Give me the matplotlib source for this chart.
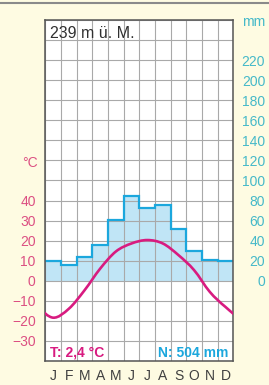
import matplotlib.pyplot as plt
from matplotlib.path import Path
from matplotlib.patches import PathPatch
from matplotlib.lines import Line2D
import numpy as np

plt.rcParams['font.family'] = ['Liberation Sans', 'DejaVu Sans']

# data
months = ['J', 'F', 'M', 'A', 'M', 'J', 'J', 'A', 'S', 'O', 'N', 'D']
precip_mm = [20, 16, 24, 36, 61, 85, 73, 76, 52, 30, 21, 20]
temp_c = [-18.4, -13.9, -4.7, 6.1, 14.6, 18.6, 20.3, 18.6, 12.8, 5.3, -5.5, -13.0]
temp_ticks = [-30, -20, -10, 0, 10, 20, 30, 40]
mm_ticks = [0, 20, 40, 60, 80, 100, 120, 140, 160, 180, 200, 220]
station = '239 m ü. M.'
temp_note = 'T: 2,4 °C'
precip_note = 'N: 504 mm'

bg = '#fefbe2'
rain_line = '#1ba7dd'
rain_fill = '#c0e5f6'
temp_col = '#d81b80'
temp_lab = '#dc4f82'
mm_lab = '#45b9c9'
grid_col = '#a9a9a9'

fig = plt.figure(figsize=(2.69, 3.85), dpi=100, facecolor=bg)
fig.add_artist(Line2D([0, 1], [0.9935, 0.9935], color='#8a8a8a', lw=1.5))

# temperature axes (left) on top, precipitation twin (right) underneath
axt = fig.add_axes([0.169, 0.0623, 0.698, 0.8857])
ax = axt.twinx()
axt.set_zorder(ax.get_zorder() + 1)
axt.patch.set_visible(False)
ax.patch.set_visible(True)
ax.set_facecolor('white')
ax.xaxis.set_visible(True)

edges = np.arange(13)
axt.set_xlim(0, 12)
axt.set_ylim(-40, 130)
ax.set_ylim(-80, 260)

axt.set_xticks(edges[:-1] + 0.5)
axt.set_xticklabels(months)
axt.set_xticks(edges, minor=True)
axt.tick_params(axis='x', which='both', length=0, pad=6, labelsize=10, labelcolor='#404040')
ax.tick_params(axis='x', which='both', length=0, labelbottom=False, labeltop=False)

ax.set_yticks(mm_ticks)
ax.set_yticklabels([str(v) for v in mm_ticks])
ax.set_yticks(np.arange(-80, 261, 20), minor=True)
ax.tick_params(axis='y', which='both', length=0, pad=23, labelsize=10, labelcolor=mm_lab)
for tk in ax.yaxis.get_major_ticks():
    tk.label2.set_horizontalalignment('right')

ax.set_axisbelow('line')
ax.grid(axis='y', which='both', color=grid_col, lw=0.8)
ax.grid(axis='x', which='minor', color=grid_col, lw=0.8)
ax.stairs(precip_mm, edges, baseline=0, fill=True, color=rain_fill, zorder=1)
ax.stairs(precip_mm, edges, baseline=None, color=rain_line, lw=1.6, zorder=2)

axt.set_yticks(temp_ticks)
axt.set_yticklabels([str(v).replace('-', '\u2212') for v in temp_ticks])
axt.tick_params(axis='y', length=0, pad=7, labelsize=10, labelcolor=temp_lab)

for s in ax.spines.values():
    s.set_visible(False)
for s in axt.spines.values():
    s.set_color('#555555')
    s.set_linewidth(1.1)

# smooth temperature curve (Catmull-Rom through monthly means, wrapped)
t = np.array(temp_c)
xs = np.arange(-2, 14) + 0.5
ys = np.concatenate([t[-2:], t, t[:2]])
verts = [(xs[1], ys[1])]
codes = [Path.MOVETO]
for i in range(1, len(xs) - 2):
    c1 = (xs[i] + (xs[i + 1] - xs[i - 1]) / 6, ys[i] + (ys[i + 1] - ys[i - 1]) / 6)
    c2 = (xs[i + 1] - (xs[i + 2] - xs[i]) / 6, ys[i + 1] - (ys[i + 2] - ys[i]) / 6)
    verts += [c1, c2, (xs[i + 1], ys[i + 1])]
    codes += [Path.CURVE4] * 3
axt.add_patch(PathPatch(Path(verts, codes), fill=False, edgecolor=temp_col, lw=1.9, zorder=3))

axt.text(0.27, 123.5, station, fontsize=11.5, color='#303030', va='center', ha='left')
axt.text(0.27, -35.8, temp_note, fontsize=10, color=temp_col, va='center', ha='left', weight='bold')
axt.text(11.72, -35.8, precip_note, fontsize=10, color=rain_line, va='center', ha='right', weight='bold')

fig.text(0.139, 0.577, '°C', fontsize=10, color=temp_lab, ha='right', va='center')
fig.text(0.985, 0.943, 'mm', fontsize=10, color=mm_lab, ha='right', va='center')

fig.savefig('out.png', dpi=100, facecolor=bg)
